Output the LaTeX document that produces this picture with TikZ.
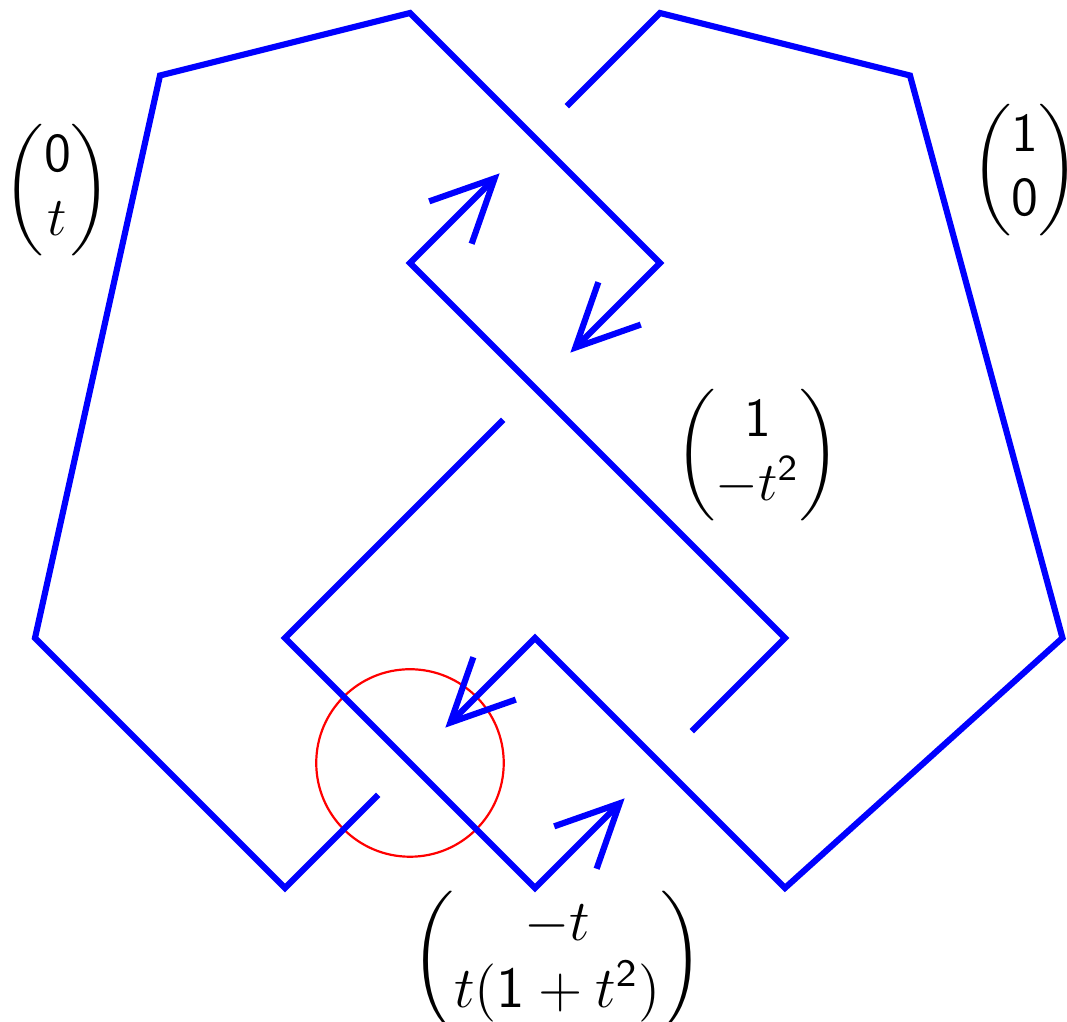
\documentclass[tikz,border=0pt]{standalone}
\usepackage{amsmath}
\usetikzlibrary{arrows.meta,calc}
\begin{document}
\begin{tikzpicture}[x=1cm, y=1cm,
  knot/.style={blue, line width=1.4pt},
  head/.style={-{Straight Barb[length=5mm,width=4.8mm]}},
  vec/.style={font=\large, inner sep=0pt, scale=1.04}]
\useasboundingbox (-0.28,-1.072) rectangle (8.256,7.104);
% corners of the diagram
\coordinate (A) at (3,7);
\coordinate (B) at (1,6.5);
\coordinate (C) at (0,2);
\coordinate (D) at (2,0);
\coordinate (E) at (4,2);
\coordinate (F) at (6,0);
\coordinate (G) at (8.22,2);
\coordinate (H) at (7,6.5);
\coordinate (I) at (5,7);
\coordinate (J) at (3,5);
\coordinate (K) at (6,2);
\coordinate (L) at (4,0);
\coordinate (M) at (2,2);
\coordinate (N) at (5,5);
% crossings
\coordinate (X1) at (3,1);
\coordinate (X2) at (4,6);
\coordinate (X3) at (4,4);
\coordinate (X4) at (5,1);
\draw[red, line width=0.5pt] (X1) circle (0.75);
\draw[knot, head] ($(X1)!0.36cm!(D)$) -- (D) -- (C) -- (B) -- (A) -- (N) -- ($(X3)!0.4cm!(N)$);
\draw[knot, head] ($(X3)!0.36cm!(M)$) -- (M) -- (L) -- ($(X4)!0.4cm!(L)$);
\draw[knot, head] ($(X4)!0.36cm!(K)$) -- (K) -- (J) -- ($(X2)!0.4cm!(J)$);
\draw[knot, head] ($(X2)!0.36cm!(I)$) -- (I) -- (H) -- (G) -- (F) -- (E) -- ($(X1)!0.4cm!(E)$);
% labels
\node[vec] (v0t) at (0.18,5.58) {$\begin{pmatrix}\mathsf{0}\\ t\end{pmatrix}$};
\node[vec] (v10) at (7.92,5.74) {$\begin{pmatrix}\mathsf{1}\\ \mathsf{0}\end{pmatrix}$};
\node[vec] (vmid) at (5.78,3.46) {$\begin{pmatrix}\mathsf{1}\\ -t^{\mathsf{2}}\end{pmatrix}$};
\node[vec, scale=1.06] (vbot) at (4.18,-0.58) {$\begin{pmatrix}-t\\ t(\mathsf{1}+t^{\mathsf{2}})\end{pmatrix}$};
\end{tikzpicture}
\end{document}
